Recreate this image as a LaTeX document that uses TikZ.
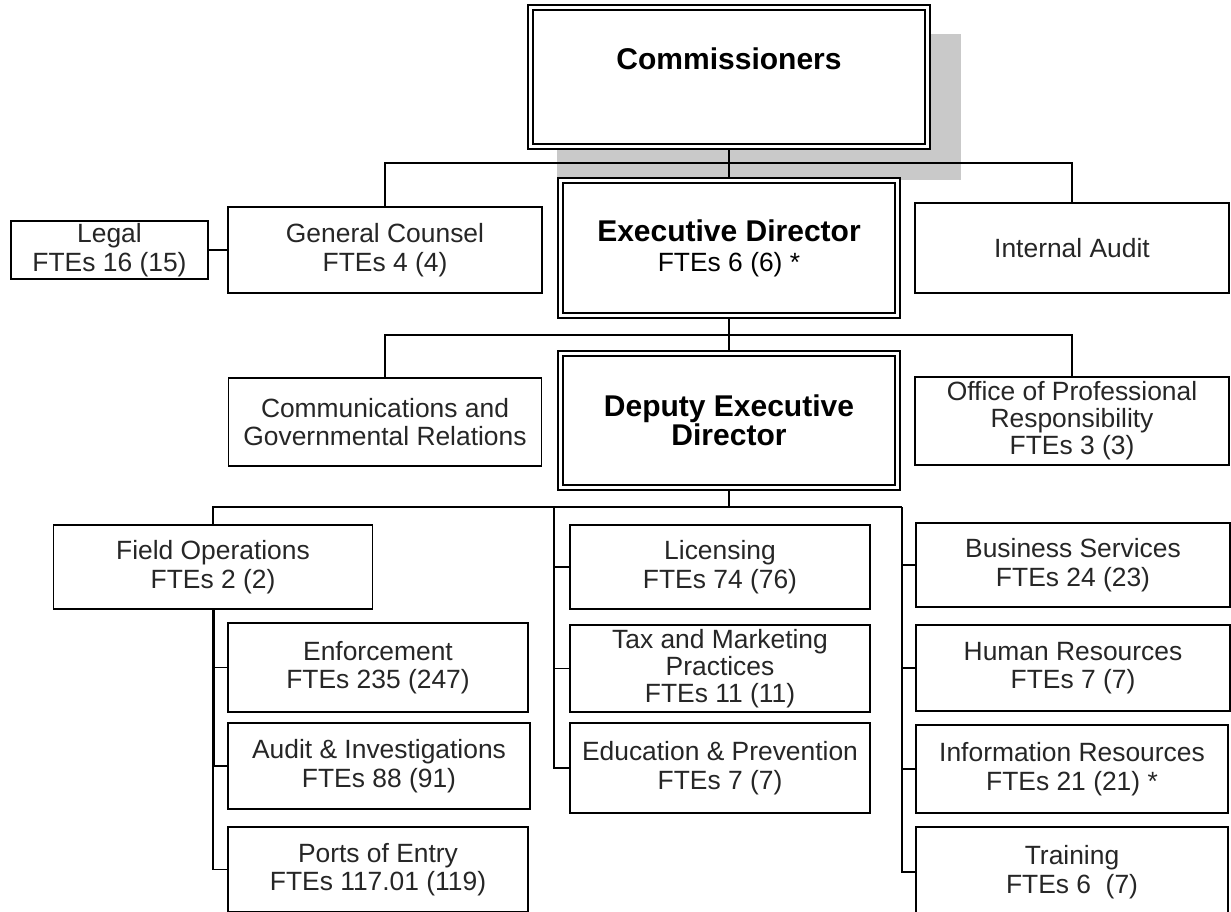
\documentclass[tikz,border=0pt]{standalone}
\usepackage{fontspec}
\setmainfont{Liberation Sans}
\usetikzlibrary{calc}
\pgfdeclarelayer{shadow}
\pgfdeclarelayer{wires}
\pgfsetlayers{shadow,wires,main}

\begin{document}
\begin{tikzpicture}[x=1pt,y=-1pt,
  unit/.style={draw=black, line width=1.4pt, fill=white, outer sep=0pt,
    inner sep=2pt, align=center, text=black!85,
    font=\fontsize{26.4}{28.5}\selectfont},
  chief/.style={draw=black, line width=1.7pt, double=white,
    double distance=3.8pt, fill=white, outer sep=0pt, inner sep=2pt,
    align=center, text=black, font=\fontsize{26.4}{28.5}\selectfont},
  size/.style n args={2}{minimum width=#1pt, minimum height=#2pt},
  wire/.style={draw=black, line width=1.4pt},
  heavywire/.style={draw=black, line width=3pt},
  big/.style={font=\bfseries\fontsize{30}{29}\selectfont}
]
\useasboundingbox (0,0) rectangle (1231,911);

% top of the chart
\node[chief, size={397}{139}] (comm) at (729,77) {};
\node[big, anchor=base] (commtitle) at (729,69) {Commissioners};
\node[chief, size={337}{135}] (ed) at (729,248)
  {{\bfseries\fontsize{30}{30}\selectfont Executive Director}\\[1.5pt]FTEs 6 (6) *};
\node[unit, size={197}{58}] (legal) at (109.5,250) {Legal\\FTEs 16 (15)};
\node[unit, size={314}{86}] (gc) at (385,250) {General Counsel\\FTEs 4 (4)};
\node[unit, size={314}{90}] (ia) at (1072,248) {Internal Audit};

% second tier
\node[chief, big, size={337}{134}] (ded) at (729,420.5)
  {Deputy Executive\\Director};
\node[unit, size={313}{88}] (cgr) at (385,422)
  {Communications and\\Governmental Relations};
\node[unit, size={314}{88}, font=\fontsize{26.4}{27}\selectfont] (opr) at (1072,421)
  {Office of Professional\\Responsibility\\FTEs 3 (3)};

% field operations branch
\node[unit, size={319}{84}] (fo) at (213,567) {Field Operations\\FTEs 2 (2)};
\node[unit, size={300}{89}] (enf) at (378,667.5) {Enforcement\\FTEs 235 (247)};
\node[unit, size={302}{86}] (aud) at (379,766) {Audit \& Investigations\\FTEs 88 (91)};
\node[unit, size={300}{85}] (ports) at (378,869.5) {Ports of Entry\\FTEs 117.01 (119)};

% middle branch
\node[unit, size={300}{84}] (lic) at (720,567) {Licensing\\FTEs 74 (76)};
\node[unit, size={300}{87}, font=\fontsize{26.4}{27}\selectfont] (tax) at (720,668.5)
  {Tax and Marketing\\Practices\\FTEs 11 (11)};
\node[unit, size={300}{90}] (edu) at (720,768) {Education \& Prevention\\FTEs 7 (7)};

% support branch
\node[unit, size={314}{84}] (bs) at (1073,565) {Business Services\\FTEs 24 (23)};
\node[unit, size={314}{86}] (hr) at (1073,668) {Human Resources\\FTEs 7 (7)};
\node[unit, size={312}{88}] (ir) at (1072,769) {Information Resources\\FTEs 21 (21) *};
\node[unit, size={312}{90}] (train) at (1072,872) {Training\\FTEs 6~ (7)};

% junction points on the buses
\coordinate (j1) at (729,163);
\coordinate (j2) at (729,335);
\coordinate (j3) at (729,507);
\coordinate (mstem) at (554,507);
\coordinate (rstem) at (902,507);

\begin{pgfonlayer}{shadow}
  \fill[black!21] (557,34) rectangle (961,180);
\end{pgfonlayer}

\begin{pgfonlayer}{wires}
  % commissioners to executive director and staff offices
  \draw[wire] (comm.south) -- (ed.north);
  \draw[wire] (gc.north) |- (j1) -| (ia.north);
  \draw[wire] (legal.east) -- (gc.west);
  % executive director to deputy and staff offices
  \draw[wire] (ed.south) -- (ded.north);
  \draw[wire] (cgr.north) |- (j2) -| (opr.north);
  % deputy to the three branches
  \draw[wire] (ded.south) -- (j3);
  \draw[wire] (fo.north) |- (j3) -- (rstem);
  % field operations stem
  \draw[heavywire] (fo.south) -- (fo.south |- aud.west);
  \draw[wire] (fo.south |- aud.west) |- (ports.west);
  \draw[wire] (fo.south |- enf.west) -- (enf.west);
  \draw[wire] (fo.south |- aud.west) -- (aud.west);
  % middle stem
  \draw[wire] (mstem) |- (edu.west);
  \draw[wire] (mstem |- lic.west) -- (lic.west);
  \draw[wire] (mstem |- tax.west) -- (tax.west);
  % support stem
  \draw[wire] (rstem) |- (train.west);
  \draw[wire] (rstem |- bs.west) -- (bs.west);
  \draw[wire] (rstem |- hr.west) -- (hr.west);
  \draw[wire] (rstem |- ir.west) -- (ir.west);
\end{pgfonlayer}
\end{tikzpicture}
\end{document}
